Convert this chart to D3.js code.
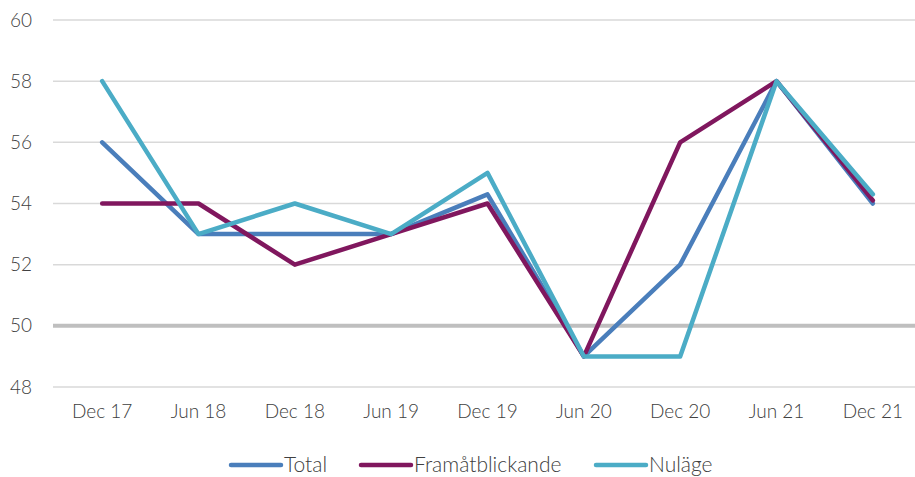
<!DOCTYPE html>
<html>
<head>
<meta charset="utf-8">
<script src="https://cdn.jsdelivr.net/npm/d3@7"></script>
<style>
body{margin:0;background:#fff;}
svg{display:block;font-family:Lato,"Open Sans",sans-serif;}
</style>
</head>
<body>
<div id="chart"></div>
<script>
var periods=["Dec 17","Jun 18","Dec 18","Jun 19","Dec 19","Jun 20","Dec 20","Jun 21","Dec 21"];
var total=[56,53,53,53,54.3,49,52,58,54];
var framat=[54,54,52,53,54,49,56,58,54.1];
var nulage=[58,53,54,53,55,49,49,58,54.3];
var yTicks=[48,50,52,54,56,58,60];

var series=[
	{name:"Total",values:total,color:"#4a7ebb"},
	{name:"Framåtblickande",values:framat,color:"#80175e"},
	{name:"Nuläge",values:nulage,color:"#4bacc6"}
];

var width=915,height=477;
var svg=d3.select("#chart").append("svg")
	.attr("width",width)
	.attr("height",height);

//scales
var xscale=d3.scaleBand()
	.domain(periods)
	.range([54,921]);
var yscale=d3.scaleLinear()
	.domain([48,60])
	.range([387,20]);

//gridlines
svg.selectAll(".grid")
	.data(yTicks)
	.enter().append("line")
	.attr("x1",53)
	.attr("x2",width)
	.attr("y1",function(d){return yscale(d);})
	.attr("y2",function(d){return yscale(d);})
	.attr("stroke",function(d){return d==50?"#bfbfbf":"#d9d9d9";})
	.attr("stroke-width",function(d){return d==50?4:1.5;});

//y axis
var y_axis=d3.axisLeft(yscale).tickValues(yTicks).tickSize(0).tickPadding(0);
var gy=svg.append("g")
	.attr("transform","translate(21,0)")
	.call(y_axis);
gy.select(".domain").remove();
gy.selectAll("text")
	.attr("text-anchor","middle")
	.attr("font-size",19)
	.attr("font-weight",300)
	.attr("fill","#404040")
	.attr("font-family","Lato,sans-serif");

//x axis
var x_axis=d3.axisBottom(xscale).tickSize(0).tickPadding(0);
var gx=svg.append("g")
	.attr("transform","translate(0,404)")
	.call(x_axis);
gx.select(".domain").remove();
gx.selectAll("text")
	.attr("font-size",19)
	.attr("font-weight",300)
	.attr("fill","#404040")
	.attr("font-family","Lato,sans-serif");

//lines
var line=d3.line()
	.x(function(d,i){return xscale(periods[i])+xscale.bandwidth()/2;})
	.y(function(d){return yscale(d);});

svg.selectAll(".series")
	.data(series)
	.enter().append("path")
	.attr("fill","none")
	.attr("stroke",function(d){return d.color;})
	.attr("stroke-width",4.5)
	.attr("stroke-linejoin","round")
	.attr("stroke-linecap","round")
	.attr("d",function(d){return line(d.values);});

//legend
var legendX=[231,361,596];
var lg=svg.selectAll(".legend")
	.data(series)
	.enter().append("g")
	.attr("transform",function(d,i){return "translate("+legendX[i]+",465)";});
lg.append("line")
	.attr("x1",0).attr("x2",50)
	.attr("stroke",function(d){return d.color;})
	.attr("stroke-width",4.5)
	.attr("stroke-linecap","round");
lg.append("text")
	.attr("x",53)
	.attr("y",7)
	.attr("font-size",21)
	.attr("font-weight",300)
	.attr("fill","#404040")
	.text(function(d){return d.name;});
</script>
</body>
</html>
